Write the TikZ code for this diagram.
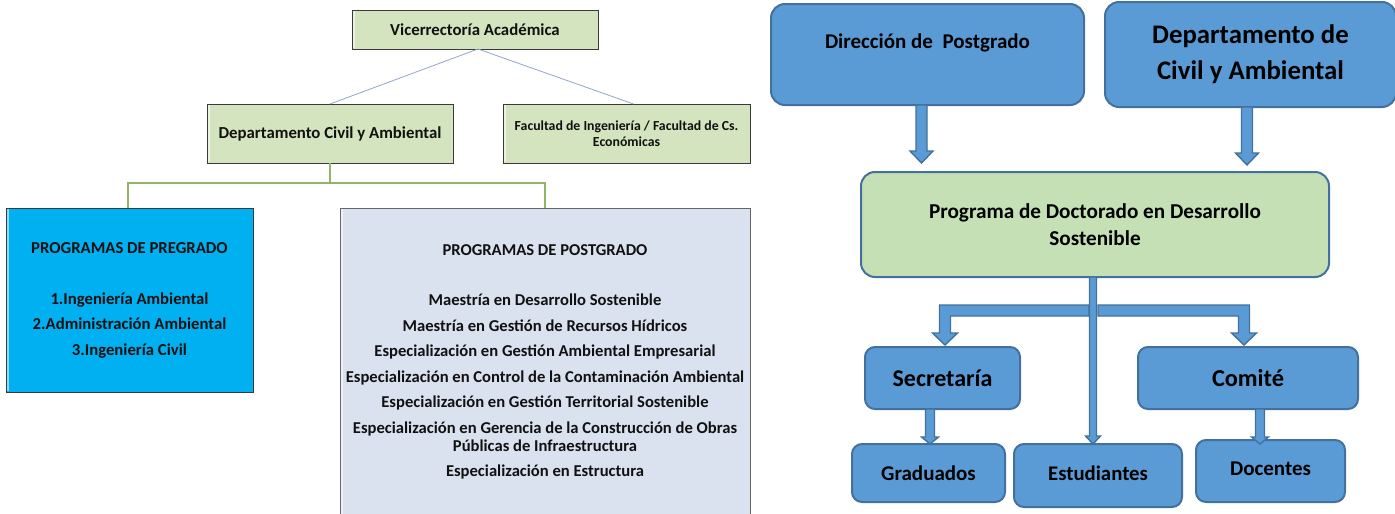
\documentclass[tikz,border=0pt]{standalone}
\usepackage{fontspec}
\setmainfont{Carlito}
\usetikzlibrary{calc}
\definecolor{gfill}{HTML}{D3E4BE}
\definecolor{gedge}{HTML}{3A3A3A}
\definecolor{cyanfill}{HTML}{00B0F0}
\definecolor{lavfill}{HTML}{DAE1EF}
\definecolor{bfill}{HTML}{5B9BD5}
\definecolor{bedge}{HTML}{41719C}
\definecolor{pgreen}{HTML}{C5E0B4}
\definecolor{vline}{HTML}{8FA8C8}
\definecolor{gline}{HTML}{92B468}
\definecolor{txt}{HTML}{111111}
\newcommand\blkdown[5]{%
  \filldraw[blk] let \p1=(#1), \p2=(#2) in
    (\x1-#3,\y1) -- (\x1+#3,\y1) -- (\x1+#3,\y2+#5) -- (\x1+#4,\y2+#5) --
    (\x1,\y2) -- (\x1-#4,\y2+#5) -- (\x1-#3,\y2+#5) -- cycle;}
\begin{document}
\begin{tikzpicture}[x=1pt,y=-1pt,
  lbox/.style={draw=gedge, line width=0.9pt, inner sep=0pt, outer sep=0pt, align=center, text=txt,
    path picture={\draw[white,opacity=0.55,line width=2.5pt]
      ([xshift=2pt,yshift=-1pt]path picture bounding box.north west) --
      ([xshift=2pt,yshift=1pt]path picture bounding box.south west);}},
  gbox/.style={lbox, fill=gfill},
  rbox/.style={draw=bedge, line width=2pt, fill=bfill, rounded corners=14pt, inner sep=0pt, outer sep=0pt, align=center, text=black},
  sbox/.style={rbox, rounded corners=10pt},
  blk/.style={draw=bedge, fill=bfill, line width=1.4pt, line join=miter},
  thinl/.style={draw=vline, line width=0.8pt},
  greenl/.style={draw=gline, line width=1.1pt}
]
\useasboundingbox (0,0) rectangle (1395,514);
\fill[white] (0,0) rectangle (1395,514);

% ---------- left part ----------
\node[gbox, minimum width=246pt, minimum height=39pt, font=\bfseries\fontsize{16.8}{20}\selectfont] (vice) at (475,29.5) {Vicerrectoría Académica};
\node[gbox, minimum width=246pt, minimum height=59pt, font=\bfseries\fontsize{16.8}{20}\selectfont] (dept) at (330,133.5) {Departamento Civil y Ambiental};
\node[gbox, minimum width=247pt, minimum height=59pt, font=\bfseries\fontsize{13.8}{16}\selectfont] (fac) at (626.5,133.5) {Facultad de Ingeniería / Facultad de Cs.\\Económicas};
\node[lbox, fill=cyanfill, minimum width=247pt, minimum height=184pt, font=\bfseries\fontsize{16.7}{25.5}\selectfont] (pre) at (129.5,300)
  {PROGRAMAS DE PREGRADO\\[25.5pt]1.Ingeniería Ambiental\\2.Administración Ambiental\\3.Ingeniería Civil};
\node[lbox, fill=lavfill, draw=gray!80!black, minimum width=410pt, minimum height=312pt] (post) at (545,364) {};
\node[align=center, text=txt, font=\bfseries\fontsize{16.6}{18}\selectfont, inner sep=0pt] (posttxt) at (545,362)
  {PROGRAMAS DE POSTGRADO\\[32pt]
   Maestría en Desarrollo Sostenible\\[7.5pt]
   Maestría en Gestión de Recursos Hídricos\\[7.5pt]
   Especialización en Gestión Ambiental Empresarial\\[7.5pt]
   Especialización en Control de la Contaminación Ambiental\\[7.5pt]
   Especialización en Gestión Territorial Sostenible\\[7.5pt]
   Especialización en Gerencia de la Construcción de Obras\\
   Públicas de Infraestructura\\[7.5pt]
   Especialización en Estructura};

\draw[thinl] ([xshift=3pt]vice.south) -- (dept.north);
\draw[thinl] ([xshift=3pt]vice.south) -- ([xshift=7pt]fac.north);
\draw[greenl] (dept.south) -- ++(0,20) -| ([xshift=-1.5pt]pre.north);
\draw[greenl] (dept.south) -- ++(0,20) -| (post.north);

% ---------- right part ----------
\node[rbox, minimum width=313pt, minimum height=101pt] (dir) at (927.5,54.5) {};
\node[font=\bfseries\fontsize{21}{25}\selectfont, inner sep=0pt] (dirtxt) at ($(dir.north)+(0,39)$) {Dirección de\ \ Postgrado};
\node[rbox, minimum width=291pt, minimum height=105pt, font=\bfseries\fontsize{26.8}{36}\selectfont] (dep) at (1250.5,54.5) {Departamento de\\Civil y Ambiental};
\node[rbox, fill=pgreen, minimum width=468pt, minimum height=105pt, font=\bfseries\fontsize{21.2}{27}\selectfont] (prog) at (1095,224.5) {Programa de Doctorado en Desarrollo\\Sostenible};
\node[sbox, minimum width=155pt, minimum height=62pt, font=\bfseries\fontsize{24}{28}\selectfont] (sec) at (942.5,378) {Secretaría};
\node[sbox, minimum width=220pt, minimum height=62pt, font=\bfseries\fontsize{24.3}{28}\selectfont] (com) at (1248,378) {Comité};
\node[sbox, minimum width=153pt, minimum height=58pt, font=\bfseries\fontsize{21}{24}\selectfont] (grad) at (928.5,473) {Graduados};
\node[sbox, minimum width=168pt, minimum height=63pt] (est) at (1098,475.5) {};
\node[font=\bfseries\fontsize{20.8}{24}\selectfont, inner sep=0pt] (esttxt) at ($(est.north)+(0,29)$) {Estudiantes};
\node[sbox, minimum width=149pt, minimum height=62pt] (doc) at (1270.5,471) {};
\node[font=\bfseries\fontsize{21}{24}\selectfont, inner sep=0pt] (doctxt) at ($(doc.north)+(0,29)$) {Docentes};

% block arrows
\blkdown{[xshift=-6pt]dir.south}{[yshift=9pt]prog.north}{5.5pt}{11.5pt}{12pt}
\blkdown{[xshift=-3.5pt]dep.south}{[yshift=7pt]prog.north}{5.5pt}{11.5pt}{12pt}
\coordinate (hub) at ($(prog.south)+(0,33.5)$);
% left bent arrow
\filldraw[blk] let \p1=([xshift=-6pt]hub), \p2=([xshift=2.5pt,yshift=2pt]sec.north) in
  (\x1,\y1+5.5pt) -- (\x2-5.5pt,\y1+5.5pt) -- (\x2-5.5pt,\y2+12pt) -- (\x2-12.5pt,\y2+12pt) --
  (\x2,\y2) -- (\x2+12.5pt,\y2+12pt) -- (\x2+5.5pt,\y2+12pt) -- (\x2+5.5pt,\y1-5.5pt) -- (\x1,\y1-5.5pt) -- cycle;
% right bent arrow
\filldraw[blk] let \p1=([xshift=3pt]hub), \p2=([xshift=-4pt,yshift=2pt]com.north) in
  (\x1,\y1+5.5pt) -- (\x2+5.5pt,\y1+5.5pt) -- (\x2+5.5pt,\y2+12pt) -- (\x2+12.5pt,\y2+12pt) --
  (\x2,\y2) -- (\x2-12.5pt,\y2+12pt) -- (\x2-5.5pt,\y2+12pt) -- (\x2-5.5pt,\y1-5.5pt) -- (\x1,\y1-5.5pt) -- cycle;
% trunk
\blkdown{[xshift=-2pt]prog.south}{est.north}{3.5pt}{7.5pt}{8pt}
\blkdown{[xshift=-12.5pt]sec.south}{grad.north}{4.5pt}{8.5pt}{7pt}
\blkdown{[xshift=12pt]com.south}{[yshift=-4pt]doc.north}{4.5pt}{8.5pt}{7pt}
\end{tikzpicture}
\end{document}
